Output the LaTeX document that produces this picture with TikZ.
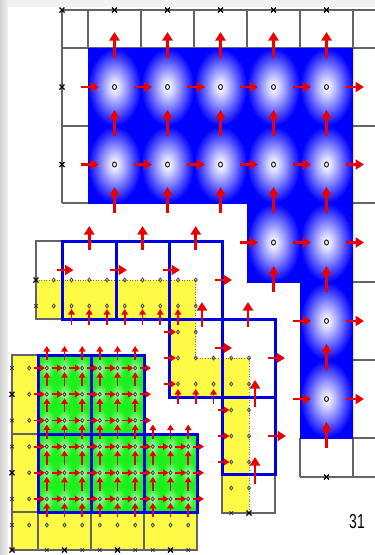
\documentclass[tikz,border=0pt]{standalone}
\usepackage{fontspec}
\setmainfont{Liberation Sans}
\usetikzlibrary{arrows.meta}
\definecolor{cblue}{RGB}{0,0,255}
\definecolor{lblue}{RGB}{0,0,225}
\definecolor{cgreen}{RGB}{20,240,20}
\definecolor{cyellow}{RGB}{255,250,70}
\definecolor{cgray}{RGB}{100,100,100}
\definecolor{cred}{RGB}{235,0,0}
\pgfdeclareradialshading{bluecell}{\pgfpoint{0bp}{0bp}}{color(0bp)=(white); color(4bp)=(white!88!cblue); color(12bp)=(white!55!cblue); color(19bp)=(white!25!cblue); color(25bp)=(cblue); color(50bp)=(cblue)}
\pgfdeclareradialshading{greencell}{\pgfpoint{0bp}{0bp}}{color(0bp)=(white!75!cgreen); color(10bp)=(white!35!cgreen); color(22bp)=(white!5!cgreen); color(50bp)=(cgreen)}
\newcommand\smx[2]{\draw[black!80,line width=0.9pt] ({#1-1.7},{#2-1.7}) -- ({#1+1.7},{#2+1.7}) ({#1-1.7},{#2+1.7}) -- ({#1+1.7},{#2-1.7});}
\newcommand\bgx[2]{\draw[black,line width=1.3pt] ({#1-2.5},{#2-2.5}) -- ({#1+2.5},{#2+2.5}) ({#1-2.5},{#2+2.5}) -- ({#1+2.5},{#2-2.5});}
\newcommand\fdt[2]{\draw[black!70,line width=0.9pt] ({#1},{#2}) ellipse[x radius=1.5pt, y radius=1.9pt];}
\tikzset{
  gline/.style={cgray, line width=2.8pt},
  bline/.style={lblue, line width=3pt},
  carrow/.style={cred, line width=2.8pt, -{Triangle[length=8.5pt,width=10pt]}},
  farrow/.style={cred, line width=1.8pt, -{Triangle[length=5.5pt,width=6.5pt]}},
}
\begin{document}
\begin{tikzpicture}[x=1pt,y=-1pt]
\useasboundingbox (0,0) rectangle (375,555);
% slide background
\fill[gray!10] (0,0) rectangle (375,555);
\fill[white] (8,7) rectangle (375,555);
\shade[left color=gray!35, right color=gray!12] (0,0) rectangle (8,555);

% ===== top right blue region =====
\draw[gline] (62,10) -- (375,10);
\draw[gline] (62,48) -- (375,48);
\draw[gline] (62,10) -- (62,203);
\foreach \x in {88,141,194,247,300,353} {\draw[gline] (\x,10) -- (\x,48);}
\draw[gline] (62,126) -- (88,126);
\draw[gline] (62,203) -- (88,203);
\foreach \y in {126,203,282,360} {\draw[gline] (353,\y) -- (375,\y);}
\draw[gline] (300,438) -- (375,438);
\draw[gline] (300,477) -- (375,477);
\draw[gline] (300,438) -- (300,477);
\draw[gline] (353,438) -- (353,477);

\foreach \xa/\xb in {88/141,141/194,194/247,247/300,300/353}{
  \foreach \ya/\yb in {48/126,126/203}{
    \shade[shading=bluecell] (\xa,\ya) rectangle (\xb,\yb);}}
\foreach \xa/\xb in {247/300,300/353}{
  \shade[shading=bluecell] (\xa,203) rectangle (\xb,282);}
\foreach \ya/\yb in {282/360,360/438}{
  \shade[shading=bluecell] (300,\ya) rectangle (353,\yb);}

% centres
\foreach \x in {114.5,167.5,220.5,273.5,326.5}{
  \foreach \y in {87,164.5}{
    \draw[black!85,line width=1pt] (\x,\y) ellipse[x radius=2pt, y radius=2.5pt];}}
\foreach \x in {273.5,326.5} {\draw[black!85,line width=1pt] (\x,242.5) ellipse[x radius=2pt, y radius=2.5pt];}
\foreach \y in {321,399} {\draw[black!85,line width=1pt] (326.5,\y) ellipse[x radius=2pt, y radius=2.5pt];}
% marks
\bgx{62}{10}
\foreach \x in {114.5,167.5,220.5,273.5,326.5} {\bgx{\x}{10}}
\bgx{62}{87} \bgx{62}{164.5}
\bgx{326.5}{477}

% arrows blue
\foreach \y in {87,164.5}{
  \foreach \x in {88,141,194,247,300,353}{
    \draw[carrow] (\x-7,\y) -- (\x+11,\y);}}
\foreach \x in {247,300,353} {\draw[carrow] (\x-7,242.5) -- (\x+11,242.5);}
\foreach \y in {321,399}{
  \foreach \x in {300,353} {\draw[carrow] (\x-7,\y) -- (\x+11,\y);}}
\foreach \f in {48,126,203}{
  \foreach \x in {114.5,167.5,220.5,273.5,326.5}{
    \draw[carrow] (\x,\f+10) -- (\x,\f-16);}}
\foreach \x in {273.5,326.5} {\draw[carrow] (\x,292) -- (\x,266);}
\foreach \f in {360,438} {\draw[carrow] (326.5,\f+10) -- (326.5,\f-16);}

% ===== middle region =====
\fill[cyellow] (36,280) -- (195.75,280) -- (195.75,358) -- (249,358) -- (249,513) -- (222,513) -- (222,397) -- (169,397) -- (169,319) -- (36,319) -- cycle;
\draw[black!55,line width=0.6pt,dotted] (36,280) -- (195.75,280) -- (195.75,358) -- (249,358) -- (249,513);
\draw[gline] (62.5,241) -- (36,241) -- (36,319) -- (62.5,319);
\draw[gline] (222,474) -- (222,513) -- (275,513) -- (275,474);
\draw[bline] (62.5,241) rectangle (222,319);
\draw[bline] (116,241) -- (116,319);
\draw[bline] (169,241) -- (169,319);
\draw[bline] (169,319) rectangle (275,397);
\draw[bline] (222,319) -- (222,397);
\draw[bline] (222,397) rectangle (275,474);

\foreach \y in {280,306} {\foreach \k in {1,...,9} {\fdt{36+17.75*\k}{\y}}}
\foreach \k in {8,9} {\fdt{36+17.75*\k}{332}}
\foreach \y in {358,384} {\foreach \k in {8,...,12} {\fdt{36+17.75*\k}{\y}}}
\foreach \y in {410,436,462,488} {\foreach \k in {11,12} {\fdt{36+17.75*\k}{\y}}}
\bgx{36}{280} \smx{36}{306}
\smx{231.25}{513} \bgx{249}{513}

% coarse arrows middle
\foreach \x in {62.5,116,169} {\draw[carrow] (\x-6,270) -- (\x+11,270);}
\draw[carrow] (215,280) -- (232,280);
\draw[carrow] (215,348) -- (232,348);
\draw[carrow] (268,358) -- (285,358);
\draw[carrow] (268,436) -- (286,436);
\foreach \x in {89.25,142.5,195.75} {\draw[carrow] (\x,250) -- (\x,226);}
\foreach \x in {202,248} {\draw[carrow] (\x,327) -- (\x,302);}
\draw[carrow] (255,407) -- (255,380);
\draw[carrow] (255,484) -- (255,457);
% fine arrows middle
\foreach \k in {2,...,8} {\draw[farrow] (36+17.75*\k,325) -- (36+17.75*\k,309);}
\foreach \k in {8,9,10} {\draw[farrow] (36+17.75*\k,404) -- (36+17.75*\k,389);}
\foreach \y in {332,358,384} {\draw[farrow] (164,\y) -- (176,\y);}
\foreach \y in {410,436,462} {\draw[farrow] (217.5,\y) -- (229.5,\y);}

% ===== green region =====
\fill[cyellow] (12,355) rectangle (38,550);
\fill[cyellow] (12,512) rectangle (197,550);
\foreach \j in {0,1,2} {\foreach \k in {0,...,5} {
  \shade[shading=greencell] ({38+17.667*\k},{355+26.17*\j}) rectangle ({38+17.667*(\k+1)},{355+26.17*(\j+1)});}}
\foreach \j in {3,4,5} {\foreach \k in {0,...,8} {
  \shade[shading=greencell] ({38+17.667*\k},{355+26.17*\j}) rectangle ({38+17.667*(\k+1)},{355+26.17*(\j+1)});}}
\draw[gline] (38,355) -- (12,355) -- (12,550) -- (197,550) -- (197,512) -- (12,512);
\draw[gline] (12,434) -- (38,434);
\foreach \x in {38,91,144} {\draw[gline] (\x,512) -- (\x,550);}
\draw[bline] (38,355) rectangle (91,434);
\draw[bline] (91,355) rectangle (144,434);
\draw[bline] (38,434) rectangle (91,512);
\draw[bline] (91,434) rectangle (144,512);
\draw[bline] (144,434) rectangle (197,512);

% dots green
\foreach \j in {0,1,2} {\foreach \k in {0,...,5} {\fdt{38+17.667*(\k+0.5)}{355+26.17*(\j+0.5)}}}
\foreach \j in {3,4,5} {\foreach \k in {0,...,8} {\fdt{38+17.667*(\k+0.5)}{355+26.17*(\j+0.5)}}}
\foreach \j in {0,...,6} {\fdt{29.2}{355+26.17*(\j+0.5)}}
\foreach \k in {0,...,8} {\fdt{38+17.667*(\k+0.5)}{525.1}}
\foreach \j in {0,2,3,5,6} {\smx{12}{355+26.17*(\j+0.5)}}
\foreach \j in {1,4} {\bgx{12}{355+26.17*(\j+0.5)}}
\bgx{12}{550}
\foreach \k in {0,2,3,5,6,8} {\smx{38+17.667*(\k+0.5)}{550}}
\foreach \k in {1,4,7} {\bgx{38+17.667*(\k+0.5)}{550}}

% arrows green
\foreach \j in {0,1,2} {\foreach \k in {0,...,6} {
  \draw[farrow] ({38+17.667*\k-4},{355+26.17*(\j+0.5)}) -- ({38+17.667*\k+7},{355+26.17*(\j+0.5)});}}
\foreach \j in {3,4,5} {\foreach \k in {0,...,9} {
  \draw[farrow] ({38+17.667*\k-4},{355+26.17*(\j+0.5)}) -- ({38+17.667*\k+7},{355+26.17*(\j+0.5)});}}
\foreach \j in {0,1,2} {\foreach \k in {0,...,5} {
  \draw[farrow] ({38+17.667*(\k+0.5)},{355+26.17*\j+5}) -- ({38+17.667*(\k+0.5)},{355+26.17*\j-9});}}
\foreach \j in {3,...,6} {\foreach \k in {0,...,8} {
  \draw[farrow] ({38+17.667*(\k+0.5)},{355+26.17*\j+5}) -- ({38+17.667*(\k+0.5)},{355+26.17*\j-9});}}

% page number
\node[font=\fontsize{14}{14}\selectfont, yscale=1.45, inner sep=0pt] (pg) at (357,522) {31};
\end{tikzpicture}
\end{document}
